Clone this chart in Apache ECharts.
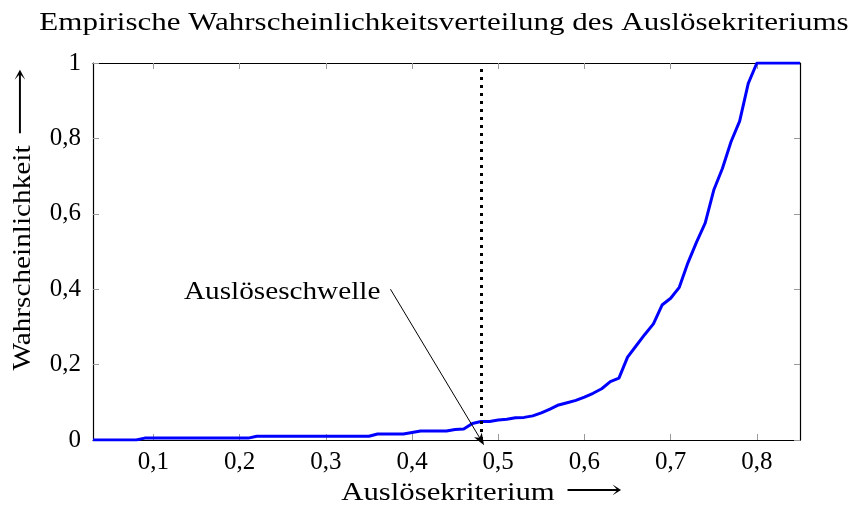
<!DOCTYPE html>
<html>
<head>
<meta charset="utf-8">
<script src="https://cdn.jsdelivr.net/npm/echarts@6/dist/echarts.min.js"></script>
<style>
  html, body { margin: 0; padding: 0; background: #fff; }
  #chart { width: 853px; height: 507px; }
</style>
</head>
<body>
<div id="chart"></div>
<script>
// Empirical distribution of the trigger criterion
const criterion = [0.03, 0.08, 0.09, 0.21, 0.22, 0.35, 0.36, 0.39, 0.40, 0.41, 0.44, 0.45, 0.46, 0.47,
  0.48, 0.49, 0.50, 0.51, 0.52, 0.53, 0.54, 0.55, 0.56, 0.57, 0.58, 0.59, 0.60, 0.61, 0.62, 0.63,
  0.64, 0.65, 0.66, 0.67, 0.68, 0.69, 0.70, 0.71, 0.72, 0.73, 0.74, 0.75, 0.76, 0.77, 0.78, 0.79,
  0.80, 0.85];
const probability = [0, 0, 0.005, 0.005, 0.01, 0.01, 0.016, 0.016, 0.02, 0.024, 0.024, 0.028, 0.029, 0.044,
  0.049, 0.049, 0.053, 0.055, 0.059, 0.060, 0.064, 0.072, 0.082, 0.093, 0.099, 0.105, 0.114, 0.124, 0.136, 0.155,
  0.164, 0.220, 0.250, 0.280, 0.308, 0.358, 0.376, 0.405, 0.470, 0.525, 0.575, 0.663, 0.720, 0.791, 0.846, 0.946,
  1.0, 1.0];

const xTicks = [0.1, 0.2, 0.3, 0.4, 0.5, 0.6, 0.7, 0.8];
const yTicks = [0, 0.2, 0.4, 0.6, 0.8, 1];

const threshold = 0.48;
const annotationFrom = [0.375, 0.4];
const annotationText = 'Auslöseschwelle';

const titleText = 'Empirische Wahrscheinlichkeitsverteilung des Auslösekriteriums';
const xName = 'Auslösekriterium';
const yName = 'Wahrscheinlichkeit';
const arrowGlyph = '\u27F6';

const serif = '"Liberation Serif", "DejaVu Serif", serif';
const fontPx = 25;
const font = fontPx + 'px ' + serif;
const fmt = v => (v === 0 ? '0' : v === 1 ? '1' : v.toFixed(1).replace('.', ','));

const chart = echarts.init(document.getElementById('chart'), null, { renderer: 'canvas' });

const tickStyle = { lineStyle: { color: '#9a9a9a', width: 1 } };

const baseX = {
  type: 'value', min: 0.03, max: 0.85,
  axisLine: { show: true, onZero: false, lineStyle: { color: '#000', width: 1.2 } },
  splitLine: { show: false }
};
const baseY = {
  type: 'value', min: 0, max: 1,
  axisLine: { show: true, onZero: false, lineStyle: { color: '#000', width: 1.2 } },
  splitLine: { show: false }
};

// wide serif text (horizontally stretched to a book-style face)
function wideText(text, x, y, stretch, opts) {
  return Object.assign({
    type: 'text', x: x, y: y, scaleX: stretch, scaleY: 1,
    style: { text: text, font: font, fill: '#000', align: 'center', verticalAlign: 'middle' },
    silent: true
  }, opts || {});
}

chart.setOption({
  animation: false,
  backgroundColor: '#fff',
  grid: { left: 93, right: 53, top: 63, bottom: 67 },
  xAxis: [
    Object.assign({}, baseX, {
      position: 'bottom',
      axisTick: Object.assign({ show: true, inside: true, length: 6, customValues: xTicks }, tickStyle),
      axisLabel: { show: true, customValues: xTicks, formatter: fmt, margin: 10,
        fontFamily: serif, fontSize: fontPx, color: '#000' }
    }),
    Object.assign({}, baseX, {
      position: 'top',
      axisTick: Object.assign({ show: true, inside: true, length: 6, customValues: xTicks }, tickStyle),
      axisLabel: { show: false }
    })
  ],
  yAxis: [
    Object.assign({}, baseY, {
      position: 'left',
      axisTick: Object.assign({ show: true, inside: true, length: 6, customValues: yTicks }, tickStyle),
      axisLabel: { show: true, customValues: yTicks, formatter: fmt, margin: 12,
        fontFamily: serif, fontSize: fontPx, color: '#000' }
    }),
    Object.assign({}, baseY, {
      position: 'right',
      axisTick: Object.assign({ show: true, inside: true, length: 6, customValues: yTicks }, tickStyle),
      axisLabel: { show: false }
    })
  ],
  series: [{
    type: 'line',
    data: criterion.map((x, i) => [x, probability[i]]),
    showSymbol: false,
    lineStyle: { color: '#0000ff', width: 3 },
    itemStyle: { color: '#0000ff' },
    z: 3,
    markLine: {
      silent: true,
      animation: false,
      label: { show: false },
      data: [
        [
          { coord: [threshold, 0], symbol: 'none', lineStyle: { type: [3, 5], width: 3, color: '#000', cap: 'butt' } },
          { coord: [threshold, 1], symbol: 'none' }
        ],
        [
          { coord: annotationFrom, symbol: 'none', lineStyle: { type: 'solid', width: 1, color: '#000' } },
          { coord: [threshold, 0], symbol: 'path://M0,0 L6,14 L0,10 L-6,14 Z', symbolSize: [9, 12] }
        ]
      ]
    }
  }]
});

// Title, axis names and the threshold annotation
const from = chart.convertToPixel({ xAxisIndex: 0, yAxisIndex: 0 }, annotationFrom);
chart.setOption({
  graphic: [
    wideText(titleText, 444, 23, 1.24),
    wideText(xName, 448, 493, 1.23),
    wideText(arrowGlyph, 594, 491, 1.6),
    wideText(yName, 23, 258, 1.17, { rotation: Math.PI / 2 }),
    wideText(arrowGlyph, 21, 102, 1.9, { rotation: Math.PI / 2 }),
    wideText(annotationText, from[0] - 10, from[1] + 3, 1.17, {
      style: { text: annotationText, font: font, fill: '#000', align: 'right', verticalAlign: 'middle' }
    })
  ]
});
</script>
</body>
</html>
